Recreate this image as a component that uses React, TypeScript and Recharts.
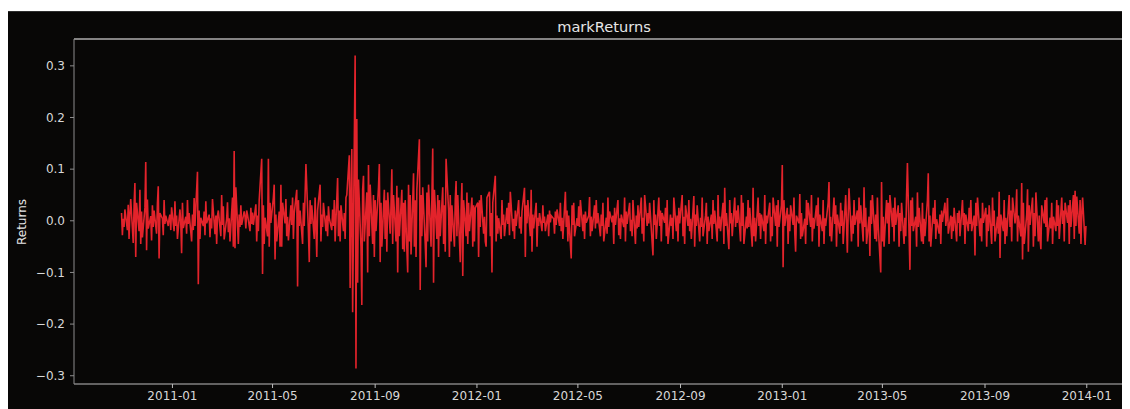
import { Line, LineChart, ReferenceLine, XAxis, YAxis } from "recharts";

// daily returns, one value per weekday
const returns2010 = [
  0.015, -0.028, 0.004, -0.012, 0.022, -0.018, 0.031, -0.035, 0.012, 0.042,
  -0.043, 0.028, 0.073, -0.07, 0.035, -0.02, 0.06, -0.045, 0.018, -0.032,
  0.025, 0.114, -0.057, 0.041, -0.015, 0.009, -0.038, 0.03, -0.012, 0.02,
  -0.025, 0.034, 0.067, -0.073, 0.015, 0.004, -0.028, 0.04, -0.006, 0.01,
  -0.01, 0.005, 0.012, -0.018, 0.026,
];

const returns2011 = [
  -0.02, 0.038, -0.01, 0.01, -0.035, 0.022, -0.004, -0.063, 0.035, -0.014,
  0.008, -0.025, 0.04, -0.006, 0.015, -0.04, 0.012, -0.018, 0.044, -0.01,
  0.095, -0.123, 0.02, -0.035, 0.006, -0.01, 0.018, -0.028, 0.038, -0.005,
  0.012, -0.032, 0.005, -0.015, 0.042, -0.026, 0.01, -0.045, 0.01, 0.02,
  -0.03, 0.05, -0.008, 0.028, -0.036, 0.004, 0.036, -0.022, 0.005, -0.04,
  0.045, -0.05, 0.135, -0.053, 0.065, -0.045, 0.012, -0.012, 0.03, -0.008,
  0.018, 0.008, -0.015, 0.02, 0.012, -0.02, 0.025, -0.006, 0.016, -0.008,
  0.032, -0.04, 0.01, -0.02, 0.04, 0.12, -0.103, 0.03, -0.045, 0.006,
  -0.03, 0.12, -0.05, 0.035, -0.004, 0.045, 0.07, -0.075, 0.012, -0.04,
  0.018, -0.05, 0.07, -0.05, 0.035, -0.005, 0.042, -0.03, 0.008, -0.038,
  0.03, -0.008, 0.045, -0.035, 0.015, 0.06, -0.127, 0.04, -0.01, 0.02,
  -0.045, 0.035, -0.01, 0.05, 0.11, -0.02, -0.08, 0.04, -0.006, 0.03,
  -0.035, 0.045, -0.008, -0.07, 0.02, 0.07, -0.04, 0.012, -0.012, 0.035,
  -0.02, 0.01, -0.03, 0.028, 0.005, -0.018, 0.022, -0.01, 0.04, -0.04,
  0.083, -0.03, 0.02, -0.04, 0.03, -0.02, 0.015, -0.035, 0.045, 0.05,
  0.127, -0.13, 0.04, 0.139, -0.177, 0.32, -0.286, 0.197, -0.12, 0.08,
  -0.05, -0.163, 0.06, 0.087, -0.04, 0.055, -0.1, 0.108, -0.03, 0.07,
  -0.045, 0.05, -0.07, 0.04, -0.02, 0.065, 0.11, -0.08, 0.035, -0.05,
  0.06, -0.035, 0.04, -0.06, 0.055, -0.025, 0.03, 0.1, -0.045, 0.05,
  -0.04, 0.068, -0.1, 0.045, -0.03, 0.06, -0.055, 0.035, -0.06, 0.04,
  -0.1, 0.07, -0.04, 0.05, -0.065, 0.092, -0.05, 0.04, -0.07, 0.06,
  0.158, -0.134, 0.05, -0.03, 0.065, -0.045, -0.09, 0.055, -0.04, 0.07,
  -0.05, 0.045, 0.14, -0.12, 0.06, -0.035, 0.05, -0.07, 0.04, -0.03,
  0.065, -0.045, 0.03, -0.06, 0.12, 0.02, -0.07, 0.05, -0.04, 0.03,
  -0.05, 0.04, 0.077, -0.03, 0.05, -0.08, 0.02, 0.073, -0.107, 0.04,
  -0.03, 0.055, -0.045, 0.035, -0.02, 0.045, -0.05, 0.03, -0.04, 0.025,
];

const returns2012 = [
  0.035, -0.07, 0.04, -0.012, 0.05, -0.025, 0.008, -0.04, -0.05, 0.045,
  0.056, -0.03, 0.015, -0.1, 0.035, 0.087, -0.04, 0.01, -0.025, 0.005,
  -0.035, 0.04, -0.008, 0.012, -0.03, 0.025, -0.006, 0.035, -0.028, 0.056,
  -0.02, 0.004, -0.035, 0.02, -0.01, 0.04, -0.015, 0.008, -0.025, 0.018,
  0.064, -0.07, 0.03, -0.005, 0.04, -0.03, 0.06, -0.06, 0.012, -0.015,
  0.035, -0.05, 0.006, -0.01, 0.015, -0.02, 0.03, -0.004, 0.008, -0.02,
  0.012, -0.03, 0.02, -0.003, 0.01, 0.004, -0.025, 0.018, -0.008, 0.022,
  -0.01, 0.035, -0.02, 0.006, -0.035, 0.056, -0.012, 0.02, -0.04, 0.01,
  -0.073, 0.03, -0.008, 0.035, -0.03, 0.005, -0.01, 0.028, -0.012, 0.04,
  -0.02, 0.012, -0.035, 0.018, -0.004, 0.01, 0.046, -0.03, 0.008, -0.02,
  0.03, -0.015, 0.04, -0.005, 0.015, -0.03, 0.012, -0.01, 0.035, -0.04,
  0.006, -0.025, 0.045, -0.012, 0.018, -0.003, 0.01, -0.045, 0.025, -0.008,
  0.04, -0.028, 0.005, -0.035, 0.012, -0.012, 0.045, -0.04, 0.018, -0.006,
  0.035, -0.02, 0.002, -0.03, 0.04, -0.045, 0.01, -0.015, 0.03, -0.012,
  0.045, -0.025, 0.006, -0.04, 0.05, -0.01, 0.015, -0.005, 0.035, 0.01,
  -0.067, 0.04, -0.008, 0.012, -0.035, 0.045, -0.01, 0.02, -0.04, 0.015,
  -0.004, 0.025, -0.03, 0.04, -0.045, 0.012, -0.01, 0.006, -0.035, 0.045,
  -0.02, 0.01, -0.04, 0.025, -0.005, 0.05, -0.03, 0.008, -0.045, 0.03,
  -0.01, 0.04, -0.02, 0.004, -0.035, 0.048, -0.05, 0.012, -0.01, 0.03,
  -0.04, 0.006, -0.012, 0.045, -0.03, 0.01, 0.035, -0.045, 0.008, -0.02,
  0.012, -0.035, 0.04, -0.006, 0.02, -0.04, 0.05, -0.015, 0.008, -0.02,
  0.035, -0.045, 0.064, -0.01, 0.015, -0.055, 0.04, -0.005, 0.015, -0.03,
  0.045, -0.012, 0.02, -0.004, 0.03, -0.04, 0.05, -0.01, 0.035, -0.045,
  0.008, -0.015, 0.04, -0.012, 0.025, -0.05, 0.064, -0.03, 0.006, -0.04,
  0.045, -0.01, 0.015, -0.035, 0.012, -0.02, 0.05, -0.045, 0.01, -0.005,
  0.035, -0.04, 0.008, -0.03, 0.045, -0.01, 0.03, -0.05, 0.04, -0.012,
  0.03,
];

const returns2013 = [
  0.108, -0.09, 0.04, -0.01, 0.025, -0.045, 0.012, -0.02, 0.03, -0.008,
  0.045, -0.025, -0.06, 0.01, -0.005, 0.052, -0.035, 0.015, -0.03, 0.004,
  -0.045, 0.04, -0.008, 0.035, -0.012, 0.05, -0.04, 0.006, -0.015, 0.03,
  -0.01, 0.045, -0.05, 0.012, -0.02, 0.04, -0.045, 0.005, -0.01, 0.035,
  0.075, -0.03, 0.008, -0.04, 0.045, -0.006, 0.03, -0.05, 0.012, -0.025,
  0.035, -0.01, 0.02, -0.045, 0.05, -0.004, -0.062, 0.012, 0.063, -0.04,
  0.01, -0.025, 0.04, -0.008, 0.02, -0.05, 0.045, -0.005, 0.03, -0.04,
  0.065, -0.012, 0.025, -0.045, 0.008, -0.068, 0.04, -0.006, 0.05, -0.035,
  0.012, -0.04, 0.045, -0.01, -0.1, 0.075, -0.04, 0.008, -0.05, 0.04,
  -0.005, 0.035, -0.045, 0.05, -0.012, 0.025, -0.04, 0.045, -0.008, 0.03,
  -0.05, 0.015, -0.02, 0.035, -0.045, 0.006, -0.03, 0.05, 0.112, -0.095,
  0.04, -0.01, 0.045, -0.02, 0.008, -0.05, 0.055, -0.012, 0.025, -0.04,
  0.035, -0.045, 0.004, -0.03, 0.04, 0.092, -0.04, 0.01, -0.05, 0.025,
  -0.006, 0.04, -0.035, 0.003, -0.025, 0.012, -0.045, 0.02, -0.002, 0.035,
  -0.01, 0.005, 0.044, -0.025, 0.01, -0.035, 0.008, -0.02, 0.025, -0.04,
  0.015, -0.004, 0.02, -0.03, 0.04, -0.008, 0.015, -0.045, 0.012, -0.02,
  0.025, -0.006, 0.04, -0.02, 0.01, -0.067, 0.035, -0.01, 0.045, -0.03,
  0.005, -0.04, 0.035, -0.004, 0.025, -0.05, 0.012, -0.02, 0.03, -0.045,
  0.045, -0.01, 0.02, -0.04, 0.008, -0.025, 0.056, -0.072, 0.012, -0.02,
  0.04, -0.045, 0.006, -0.03, 0.05, -0.012, 0.02, -0.04, 0.045, -0.005,
  0.015, 0.061, -0.04, 0.01, -0.03, 0.073, -0.075, 0.035, -0.045, 0.012,
  0.061, -0.06, 0.03, -0.008, 0.045, -0.05, 0.015, -0.03, 0.055, -0.04,
  0.01, -0.035, -0.055, 0.03, -0.005, 0.04, -0.012, 0.045, -0.04, 0.006,
  -0.015, 0.035, -0.045, 0.008, -0.02, 0.04, -0.01, 0.03, -0.035, 0.045,
  -0.006, 0.02, -0.04, 0.035, -0.004, 0.03, -0.045, 0.04, -0.012, 0.05,
  -0.035, 0.058, -0.01, 0.047, -0.025, 0.04, -0.045, 0.012, 0.045, -0.047,
  -0.01,
];

const firstDay = "2010-11-01";
const xTickLabels = [
  "2011-01", "2011-05", "2011-09", "2012-01", "2012-05", "2012-09",
  "2013-01", "2013-05", "2013-09", "2014-01",
];
const yTicks = [-0.3, -0.2, -0.1, 0, 0.1, 0.2, 0.3];

const DAY = 86400000;
const toTime = (iso: string) => Date.parse(iso + "T00:00:00Z");

// weekday timestamps, one per return
function tradingDays(start: string, n: number) {
  const out: number[] = [];
  let t = toTime(start);
  while (out.length < n) {
    const wd = new Date(t).getUTCDay();
    if (wd !== 0 && wd !== 6) out.push(t);
    t += DAY;
  }
  return out;
}

const values = [...returns2010, ...returns2011, ...returns2012, ...returns2013];
const dates = tradingDays(firstDay, values.length);
const data = values.map((v, i) => ({ date: dates[i], value: v }));

const xTicks = xTickLabels.map((s) => toTime(s + "-01"));
const xDomain = [toTime("2010-09-05"), toTime("2014-03-01")];
const yDomain = [-0.316, 0.352];

const fmtDate = (t: number) => {
  const d = new Date(t);
  return `${d.getUTCFullYear()}-${String(d.getUTCMonth() + 1).padStart(2, "0")}`;
};
const fmtY = (v: number) => v.toFixed(1).replace("-", "\u2212");

const font = "'DejaVu Sans', sans-serif";
const tickStyle = { fill: "#d8d8d8", fontSize: 12, fontFamily: font };

export default function App() {
  return (
    <div
      style={{
        position: "relative",
        marginTop: 3,
        width: 1122,
        height: 398,
        overflow: "hidden",
        background: "#080706",
        borderTop: "1px solid #2e2e2e",
        boxSizing: "border-box",
      }}
    >
      <div
        style={{
          position: "absolute",
          left: 596,
          top: 14,
          transform: "translate(-50%, -50%)",
          color: "#e6e6e6",
          fontFamily: font,
          fontSize: 14.6,
          whiteSpace: "nowrap",
        }}
      >
        markReturns
      </div>
      <div
        style={{
          position: "absolute",
          left: 14,
          top: 210,
          transform: "translate(-50%, -50%) rotate(-90deg)",
          color: "#e6e6e6",
          fontFamily: font,
          fontSize: 12,
          whiteSpace: "nowrap",
        }}
      >
        Returns
      </div>
      <div style={{ position: "absolute", left: 0, top: -1 }}>
        <LineChart width={1160} height={398} data={data} margin={{ top: 28, right: 32, bottom: 0, left: 6 }}>
          <XAxis
            dataKey="date"
            type="number"
            scale="time"
            domain={xDomain}
            ticks={xTicks}
            tickFormatter={fmtDate}
            allowDataOverflow
            height={25}
            tick={tickStyle}
            tickSize={4}
            tickMargin={3}
            axisLine={{ stroke: "#bdbdbd" }}
            tickLine={{ stroke: "#bdbdbd" }}
          />
          <YAxis
            type="number"
            domain={yDomain}
            ticks={yTicks}
            tickFormatter={fmtY}
            allowDataOverflow
            width={60}
            tick={tickStyle}
            tickSize={4}
            tickMargin={5}
            axisLine={{ stroke: "#8c8c8c" }}
            tickLine={{ stroke: "#8c8c8c" }}
          />
          <ReferenceLine y={0.352} stroke="#ffffff" strokeWidth={1.2} />
          <Line
            type="linear"
            dataKey="value"
            stroke="#e3232b"
            strokeWidth={1.6}
            dot={false}
            isAnimationActive={false}
          />
        </LineChart>
      </div>
    </div>
  );
}
